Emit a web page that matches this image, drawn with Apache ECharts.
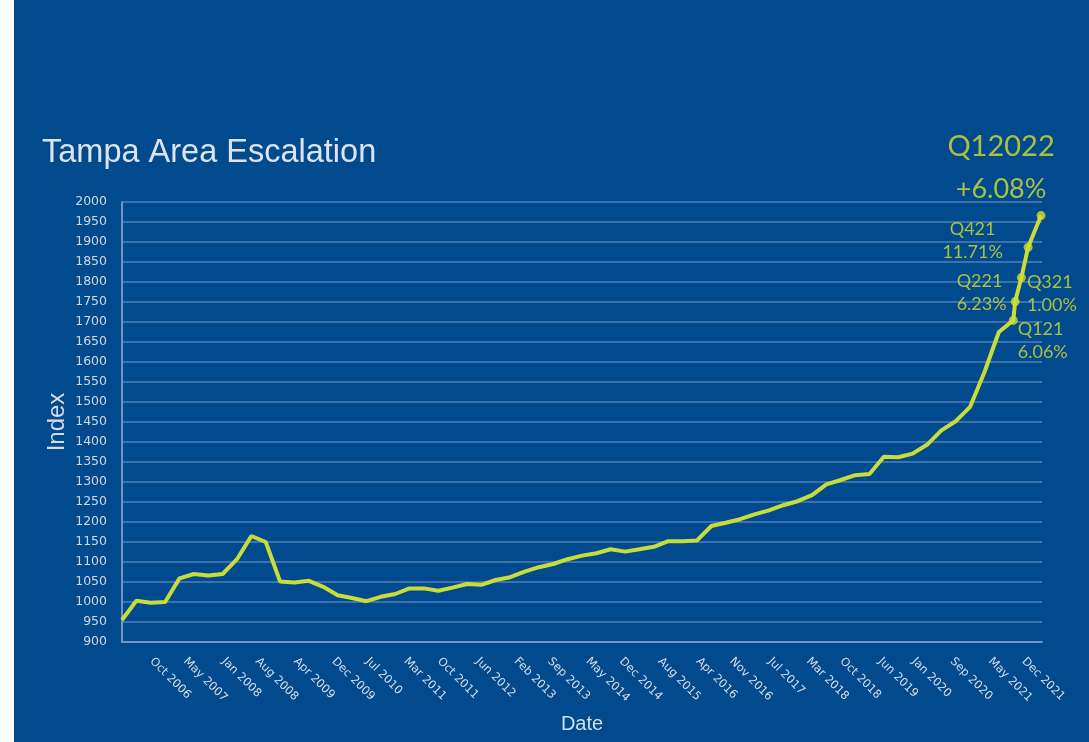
<!DOCTYPE html>
<html>
<head>
<meta charset="utf-8">
<script src="https://cdn.jsdelivr.net/npm/echarts@6/dist/echarts.min.js"></script>
<style>
  html, body { margin: 0; padding: 0; }
  #chart {
    width: 1089px; height: 742px;
    background: linear-gradient(to right, #ffffff 0, #ffffff 14px, #024a8e 14px, #024a8e 100%);
  }
</style>
</head>
<body>
<div id="chart"></div>
<script>
// ---- data ----
const dates = [
  '2006-05','2006-08','2006-11',
  '2007-02','2007-05','2007-08','2007-11',
  '2008-02','2008-05','2008-08','2008-11',
  '2009-02','2009-05','2009-08','2009-11',
  '2010-02','2010-05','2010-08','2010-11',
  '2011-02','2011-05','2011-08','2011-11',
  '2012-02','2012-05','2012-08','2012-11',
  '2013-02','2013-05','2013-08','2013-11',
  '2014-02','2014-05','2014-08','2014-11',
  '2015-02','2015-05','2015-08','2015-11',
  '2016-02','2016-05','2016-08','2016-11',
  '2017-02','2017-05','2017-08','2017-11',
  '2018-02','2018-05','2018-08','2018-11',
  '2019-02','2019-05','2019-08','2019-11',
  '2020-02','2020-05','2020-08','2020-11',
  '2021-02','2021-05','2021-08'
];
const indexValues = [
  955, 1003, 998, 1000, 1059, 1070, 1066, 1070, 1107, 1165,
  1150, 1051, 1049, 1053, 1038, 1017, 1010, 1002, 1013, 1020,
  1034, 1034, 1028, 1036, 1045, 1043, 1055, 1062, 1076, 1087,
  1095, 1107, 1116, 1122, 1132, 1126, 1132, 1138, 1152, 1152,
  1154, 1190, 1198, 1207, 1219, 1229, 1242, 1252, 1267, 1294,
  1305, 1317, 1320, 1363, 1362, 1371, 1393, 1429, 1452, 1488,
  1575, 1675
];
// annotated recent quarters
const annDates  = ['2021-11-01', '2021-11-13', '2021-12-22', '2022-02-04', '2022-04-25'];
const annValues = [1704, 1751, 1811, 1887, 1966];
const annNames  = ['Q121', 'Q221', 'Q321', 'Q421', 'Q12022'];
const annPcts   = ['6.06%', '6.23%', '1.00%', '11.71%', '+6.08%'];

const tickLabels = ['Oct 2006','May 2007','Jan 2008','Aug 2008','Apr 2009','Dec 2009','Jul 2010',
  'Mar 2011','Oct 2011','Jun 2012','Feb 2013','Sep 2013','May 2014','Dec 2014','Aug 2015',
  'Apr 2016','Nov 2016','Jul 2017','Mar 2018','Oct 2018','Jun 2019','Jan 2020','Sep 2020',
  'May 2021','Dec 2021'];

const titleText = 'Tampa Area Escalation';
const yName = 'Index';
const xName = 'Date';

// ---- helpers ----
const MONTHS = ['Jan','Feb','Mar','Apr','May','Jun','Jul','Aug','Sep','Oct','Nov','Dec'];
function isoToMonth(s) {
  const p = s.split('-').map(Number);
  return (p[0] - 2006) * 12 + (p[1] - 1) + ((p[2] || 1) - 1) / 30;
}
function labelToMonth(s) {
  const [m, y] = s.split(' ');
  return (Number(y) - 2006) * 12 + MONTHS.indexOf(m);
}
const tickPos = tickLabels.map(labelToMonth);
const tickMap = {};
tickPos.forEach((v, i) => { tickMap[v] = tickLabels[i]; });

const lineData = dates.map((d, i) => [isoToMonth(d), indexValues[i]])
  .concat(annDates.map((d, i) => [isoToMonth(d), annValues[i]]));

const YEL = '#d3df2c';
const labelFont = 'Lato, "Noto Sans", sans-serif';
const annStyles = [
  { position: 'right', distance: 0, align: 'left', offset: [0, 20] },
  { position: 'left', distance: 54, align: 'left', offset: [0, -9] },
  { position: 'right', distance: 1, align: 'left', offset: [0, 16] },
  { position: 'left', distance: 51, align: 'center', offset: [0, -7] },
  { position: 'top', distance: 1, align: 'center', offset: [-40, 0], big: true }
];
const annData = annDates.map((d, i) => {
  const st = annStyles[i];
  const label = {
    show: true, position: st.position, distance: st.distance, align: st.align,
    offset: st.offset, color: YEL, fontFamily: labelFont
  };
  if (st.big) {
    label.formatter = '{a|' + annNames[i] + '}\n{b|' + annPcts[i] + '}';
    label.rich = {
      a: { fontSize: 29, lineHeight: 42, color: YEL, fontFamily: labelFont, align: 'center' },
      b: { fontSize: 27, lineHeight: 42, color: YEL, fontFamily: labelFont, align: 'center' }
    };
  } else {
    label.formatter = annNames[i] + '\n' + annPcts[i];
    label.fontSize = 18;
    label.lineHeight = 23;
  }
  return { value: [isoToMonth(d), annValues[i]], label };
});

const chart = echarts.init(document.getElementById('chart'), null, { renderer: 'canvas' });
chart.setOption({
  backgroundColor: 'transparent',
  animation: false,
  title: {
    text: titleText, left: 37, top: 132,
    textStyle: { color: '#dde4ee', fontSize: 32.5, fontWeight: 'normal', fontFamily: '"Liberation Sans", Arial, sans-serif' }
  },
  grid: { left: 122, right: 47, top: 202, bottom: 100, containLabel: false },
  xAxis: {
    type: 'value', min: 4, max: 196,
    name: xName, nameLocation: 'middle', nameGap: 72,
    nameTextStyle: { color: '#d4deea', fontSize: 20, fontFamily: '"Liberation Sans", Arial, sans-serif' },
    axisLine: { show: true, lineStyle: { color: '#6e96c5', width: 2 } },
    axisTick: { show: false },
    splitLine: { show: false },
    axisLabel: {
      customValues: tickPos, rotate: -45, margin: 12, hideOverlap: false,
      padding: [0, 0, 0, 8],
      color: '#d6dfea', fontSize: 11.5, fontFamily: '"DejaVu Sans", sans-serif',
      formatter: v => tickMap[v] || ''
    }
  },
  yAxis: {
    type: 'value', min: 900, max: 2000, interval: 50,
    name: yName, nameLocation: 'middle', nameGap: 53, nameMoveOverlap: false,
    nameTextStyle: { color: '#d4deea', fontSize: 24, fontFamily: '"Liberation Sans", Arial, sans-serif' },
    axisLine: { show: true, lineStyle: { color: '#6e96c5', width: 2 } },
    axisTick: { show: false },
    splitLine: { show: true, lineStyle: { color: '#4f80b9', width: 1.5 } },
    axisLabel: {
      color: '#cfd8e6', fontSize: 12.5, margin: 15, fontFamily: '"DejaVu Sans", sans-serif',
      formatter: v => String(v)
    }
  },
  series: [
    {
      type: 'line', data: lineData, showSymbol: false, smooth: false,
      lineStyle: { color: '#c8dd3a', width: 4 }, z: 3
    },
    {
      type: 'scatter', data: annData, symbol: 'circle', symbolSize: 9,
      itemStyle: { color: YEL }, z: 4
    }
  ]
});
</script>
</body>
</html>
